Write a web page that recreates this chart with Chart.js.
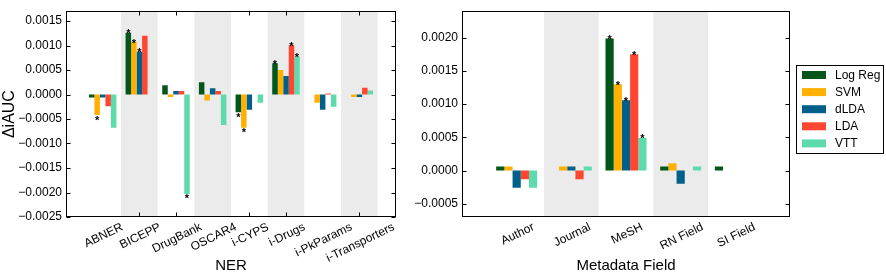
<!DOCTYPE html>
<html>
<head>
<meta charset="utf-8">
<script src="https://cdn.jsdelivr.net/npm/chart.js@4.4.1/dist/chart.umd.min.js"></script>
<style>
    body { margin: 0; background: #ffffff; }
    #ner-box { position: absolute; left: 0; top: 0; width: 400px; height: 273px; }
    #meta-box { position: absolute; left: 400px; top: 0; width: 486px; height: 273px; }
</style>
</head>
<body>
<div id="ner-box"><canvas id="ner-chart"></canvas></div>
<div id="meta-box"><canvas id="meta-chart"></canvas></div>
<script>
// --- DATA ---
const seriesNames = ['Log Reg', 'SVM', 'dLDA', 'LDA', 'VTT'];

const nerCategories = ['ABNER', 'BICEPP', 'DrugBank', 'OSCAR4', 'i-CYPS', 'i-Drugs', 'i-PkParams', 'i-Transporters'];
const nerLogReg = [-0.00006, 0.00126, 0.00019, 0.00025, -0.00036, 0.00064, 0, 0];
const nerSVM    = [-0.00042, 0.00107, -0.00005, -0.00012, -0.00068, 0.00050, -0.00017, -0.00005];
const nerDLDA   = [-0.00006, 0.00087, 0.00007, 0.00013, -0.00031, 0.00038, -0.00031, -0.00005];
const nerLDA    = [-0.00024, 0.00120, 0.00007, 0.00007, 0, 0.00101, 0.00002, 0.00014];
const nerVTT    = [-0.00068, 0, -0.00203, -0.00062, -0.00017, 0.00077, -0.00025, 0.00008];
// 1 = marked with an asterisk
const nerSigLogReg = [0, 1, 0, 0, 1, 1, 0, 0];
const nerSigSVM    = [1, 1, 0, 0, 1, 0, 0, 0];
const nerSigDLDA   = [0, 1, 0, 0, 0, 0, 0, 0];
const nerSigLDA    = [0, 0, 0, 0, 0, 1, 0, 0];
const nerSigVTT    = [0, 0, 1, 0, 0, 1, 0, 0];
const nerYTicks = [-0.0025, -0.0020, -0.0015, -0.0010, -0.0005, 0, 0.0005, 0.0010, 0.0015];
const nerXTickIdx = [1, 2, 4, 5, 7];

const metaCategories = ['Author', 'Journal', 'MeSH', 'RN Field', 'SI Field'];
const metaLogReg = [0.00006, 0, 0.00199, 0.00006, 0.00006];
const metaSVM    = [0.00006, 0.00006, 0.00130, 0.00011, 0];
const metaDLDA   = [-0.00026, 0.00006, 0.00106, -0.00020, 0];
const metaLDA    = [-0.00013, -0.00013, 0.00175, 0, 0];
const metaVTT    = [-0.00026, 0.00006, 0.00049, 0.00006, 0];
const metaSigLogReg = [0, 0, 1, 0, 0];
const metaSigSVM    = [0, 0, 1, 0, 0];
const metaSigDLDA   = [0, 0, 1, 0, 0];
const metaSigLDA    = [0, 0, 1, 0, 0];
const metaSigVTT    = [0, 0, 1, 0, 0];
const metaYTicks = [-0.0005, 0, 0.0005, 0.0010, 0.0015, 0.0020];
const metaXTickIdx = [];

// --- STYLE ---
const seriesColors = ['#02561a', '#ffb000', '#00608a', '#ff4630', '#5ddbad'];
const FONT = '"Liberation Sans", Arial, sans-serif';

function fmtTick(v) {
    const s = Math.abs(v).toFixed(4);
    return v < -1e-12 ? '\u2212' + s : s;
}

// bands, frame, inward ticks, stars, x labels, titles
const decorPlugin = {
    id: 'decor',
    beforeDatasetsDraw(chart, args, opts) {
        const { ctx, chartArea: a, scales: { x } } = chart;
        ctx.save();
        ctx.fillStyle = '#ebebeb';
        opts.categories.forEach((c, i) => {
            if (i % 2 === 1) {
                const x0 = x.getPixelForValue(i);
                const x1 = x.getPixelForValue(i + 1);
                ctx.fillRect(x0, a.top, x1 - x0, a.bottom - a.top);
            }
        });
        ctx.restore();
    },
    afterDatasetsDraw(chart, args, opts) {
        const { ctx, chartArea: a, scales: { x, y } } = chart;
        ctx.save();
        // asterisks
        ctx.fillStyle = '#000';
        ctx.font = 'bold 11px ' + FONT;
        ctx.textAlign = 'center';
        const m = ctx.measureText('*');
        const half = (m.actualBoundingBoxAscent - m.actualBoundingBoxDescent) / 2;
        opts.sig.forEach((flags, di) => {
            const meta = chart.getDatasetMeta(di);
            flags.forEach((f, j) => {
                if (!f) return;
                const bar = meta.data[j];
                const v = chart.data.datasets[di].data[j].y;
                const cy = v >= 0 ? bar.y - 1 : bar.y + 3;
                ctx.fillText('*', bar.x, cy + half);
            });
        });

        // frame
        const L = Math.round(a.left) + 0.5, R = Math.round(a.right) - 0.5;
        const T = Math.round(a.top) + 0.5, B = Math.round(a.bottom) - 0.5;
        ctx.strokeStyle = '#000';
        ctx.lineWidth = 1;
        ctx.strokeRect(L, T, R - L, B - T);

        // inward tick marks
        ctx.beginPath();
        y.ticks.forEach(t => {
            const py = Math.round(y.getPixelForValue(t.value)) + 0.5;
            ctx.moveTo(L, py); ctx.lineTo(L + 4, py);
            ctx.moveTo(R, py); ctx.lineTo(R - 4, py);
        });
        opts.xTickIdx.forEach(i => {
            const px = Math.round(x.getPixelForValue(i + 0.5)) + 0.5;
            ctx.moveTo(px, B); ctx.lineTo(px, B - 4);
            ctx.moveTo(px, T); ctx.lineTo(px, T + 4);
        });
        ctx.stroke();
        ctx.restore();
    },
    afterDraw(chart, args, opts) {
        const { ctx, chartArea: a, scales: { x } } = chart;
        ctx.save();
        ctx.fillStyle = '#000';
        // rotated category labels, centred under each group
        const ang = 26 * Math.PI / 180;
        ctx.font = '12px ' + FONT;
        ctx.textAlign = 'center';
        ctx.textBaseline = 'middle';
        opts.categories.forEach((c, i) => {
            const w = ctx.measureText(c).width;
            const h = 12;
            const H = w * Math.sin(ang) + h * Math.cos(ang);
            const cx = x.getPixelForValue(i + 0.5) + 1;
            const cy = a.bottom + 4 + H / 2;
            ctx.save();
            ctx.translate(cx, cy);
            ctx.rotate(-ang);
            ctx.fillText(c, 0, 0);
            ctx.restore();
        });
        // axis titles
        ctx.font = '15px ' + FONT;
        ctx.textBaseline = 'alphabetic';
        ctx.fillText(opts.xTitle, (a.left + a.right) / 2, 270);
        if (opts.yTitle) {
            ctx.save();
            ctx.font = '16px ' + FONT;
            ctx.translate(14, (a.top + a.bottom) / 2);
            ctx.rotate(-Math.PI / 2);
            ctx.fillText(opts.yTitle, 0, 0);
            ctx.restore();
        }
        // legend
        if (opts.legend) {
            const lg = opts.legend;
            ctx.strokeStyle = '#000';
            ctx.lineWidth = 1;
            ctx.strokeRect(lg.x + 0.5, lg.y + 0.5, lg.w, lg.h);
            ctx.font = '12px ' + FONT;
            ctx.textAlign = 'left';
            ctx.textBaseline = 'middle';
            seriesNames.forEach((name, i) => {
                const ry = lg.y + 10 + i * 17.1;
                ctx.fillStyle = seriesColors[i];
                ctx.fillRect(lg.x + 6, ry - 4, 24, 8);
                ctx.fillStyle = '#000';
                ctx.fillText(name, lg.x + 39, ry + 0.5);
            });
        }
        ctx.restore();
    }
};

function makeDatasets(seriesValues) {
    return seriesValues.map((vals, i) => ({
        label: seriesNames[i],
        data: vals.map((v, j) => ({ x: j + 0.5, y: v })),
        backgroundColor: seriesColors[i],
        borderWidth: 0,
        categoryPercentage: 0.75,
        barPercentage: 1.0
    }));
}

function createChart(canvasId, cfg) {
    const ctx = document.getElementById(canvasId).getContext('2d');
    return new Chart(ctx, {
        type: 'bar',
        data: { datasets: makeDatasets(cfg.series) },
        plugins: [decorPlugin],
        options: {
            responsive: true,
            maintainAspectRatio: false,
            animation: false,
            layout: { padding: { top: 1, left: 0, right: cfg.padRight, bottom: 56 } },
            scales: {
                x: {
                    type: 'linear',
                    offset: false,
                    min: -0.5,
                    max: cfg.categories.length + 0.5,
                    grid: { display: false },
                    border: { display: false },
                    ticks: { display: false },
                    afterFit: s => { s.height = 0; }
                },
                y: {
                    min: cfg.yMin,
                    max: cfg.yMax,
                    grid: { display: false, drawTicks: false },
                    border: { display: false },
                    afterBuildTicks: s => { s.ticks = cfg.yTicks.map(v => ({ value: v })); },
                    afterFit: s => { s.width = cfg.yWidth; },
                    ticks: {
                        padding: 4,
                        color: '#000',
                        font: { family: FONT, size: 12 },
                        callback: v => fmtTick(v)
                    }
                }
            },
            plugins: {
                legend: { display: false },
                tooltip: { enabled: false },
                decor: {
                    categories: cfg.categories,
                    sig: cfg.sig,
                    xTickIdx: cfg.xTickIdx,
                    xTitle: cfg.xTitle,
                    yTitle: cfg.yTitle,
                    legend: cfg.legend
                }
            }
        }
    });
}

createChart('ner-chart', {
    categories: nerCategories,
    series: [nerLogReg, nerSVM, nerDLDA, nerLDA, nerVTT],
    sig: [nerSigLogReg, nerSigSVM, nerSigDLDA, nerSigLDA, nerSigVTT],
    yTicks: nerYTicks,
    yMin: -0.0025,
    yMax: 0.0017,
    yWidth: 66,
    padRight: 4,
    xTickIdx: nerXTickIdx,
    xTitle: 'NER',
    yTitle: '\u0394iAUC'
});

createChart('meta-chart', {
    categories: metaCategories,
    series: [metaLogReg, metaSVM, metaDLDA, metaLDA, metaVTT],
    sig: [metaSigLogReg, metaSigSVM, metaSigDLDA, metaSigLDA, metaSigVTT],
    yTicks: metaYTicks,
    yMin: -0.0007,
    yMax: 0.0024,
    yWidth: 62,
    padRight: 96,
    xTickIdx: metaXTickIdx,
    xTitle: 'Metadata Field',
    yTitle: null,
    legend: { x: 396, y: 65, w: 87, h: 88 }
});
</script>
</body>
</html>
